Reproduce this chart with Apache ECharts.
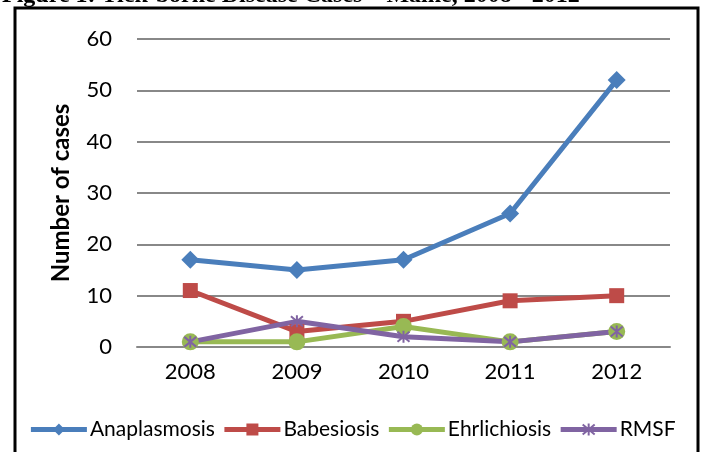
<!DOCTYPE html>
<html>
<head>
<meta charset="utf-8">
<script src="https://cdn.jsdelivr.net/npm/echarts@6/dist/echarts.min.js"></script>
<style>
  html, body { margin: 0; padding: 0; background: #fff; }
  #chart { width: 704px; height: 452px; }
</style>
</head>
<body>
<div id="chart"></div>
<script>
var years = ['2008', '2009', '2010', '2011', '2012'];
var anaplasmosis = [17, 15, 17, 26, 52];
var babesiosis = [11, 3, 5, 9, 10];
var ehrlichiosis = [1, 1, 4, 1, 3];
var rmsf = [1, 5, 2, 1, 3];

var font = 'Lato, "Noto Sans", sans-serif';
var asterisk = 'path://M0,0L10,10M10,0L0,10M5,-1L5,11';

var myChart = echarts.init(document.getElementById('chart'));

function lineSeries(name, data, color, symbol, size) {
    return {
        name: name,
        type: 'line',
        data: data,
        symbol: symbol,
        symbolSize: size,
        showSymbol: true,
        lineStyle: {color: color, width: 5},
        itemStyle: {color: color, borderColor: color, borderWidth: 0},
        emphasis: {disabled: true}
    };
}

var rmsfSeries = lineSeries('RMSF', rmsf, '#8064A2', asterisk, 12);
rmsfSeries.itemStyle = {color: 'none', borderColor: '#8064A2', borderWidth: 2};

var option = {
    animation: false,
    graphic: [{
        type: 'text',
        x: 2,
        y: 8,
        style: {
            text: 'Figure 1: Tick-borne Disease Cases \u2013 Maine, 2008 - 2012',
            font: 'bold 24px "Liberation Serif", serif',
            fill: '#000',
            verticalAlign: 'bottom'
        }
    }, {
        type: 'rect',
        shape: {x: 15, y: 8, width: 683, height: 460},
        style: {fill: 'none', stroke: '#000', lineWidth: 3}
    }],
    grid: {left: 137, right: 34, top: 39, bottom: 105},
    legend: {
        bottom: 7,
        left: 'center',
        itemWidth: 56,
        itemHeight: 15,
        itemGap: 7,
        lineStyle: {width: 5},
        textStyle: {fontFamily: font, fontSize: 21, color: '#000', padding: [0, 0, 0, -2]},
        data: ['Anaplasmosis', 'Babesiosis', 'Ehrlichiosis', 'RMSF']
    },
    xAxis: {
        type: 'category',
        data: years,
        axisLine: {lineStyle: {color: '#888', width: 2}},
        axisTick: {show: false},
        axisLabel: {fontFamily: font, fontSize: 22, color: '#000', margin: 14}
    },
    yAxis: {
        type: 'value',
        min: 0,
        max: 60,
        interval: 10,
        name: 'Number of cases',
        nameLocation: 'middle',
        nameGap: 64,
        nameTextStyle: {fontFamily: font, fontSize: 24, fontWeight: 'bold', color: '#000'},
        axisLine: {show: false},
        axisTick: {show: false},
        axisLabel: {fontFamily: font, fontSize: 22, color: '#000', margin: 25},
        splitLine: {lineStyle: {color: '#888', width: 2}}
    },
    series: [
        lineSeries('Anaplasmosis', anaplasmosis, '#4A7EBB', 'diamond', 18),
        lineSeries('Babesiosis', babesiosis, '#BE4B48', 'rect', 15),
        lineSeries('Ehrlichiosis', ehrlichiosis, '#98B954', 'circle', 17),
        rmsfSeries
    ]
};

myChart.setOption(option);
</script>
</body>
</html>
